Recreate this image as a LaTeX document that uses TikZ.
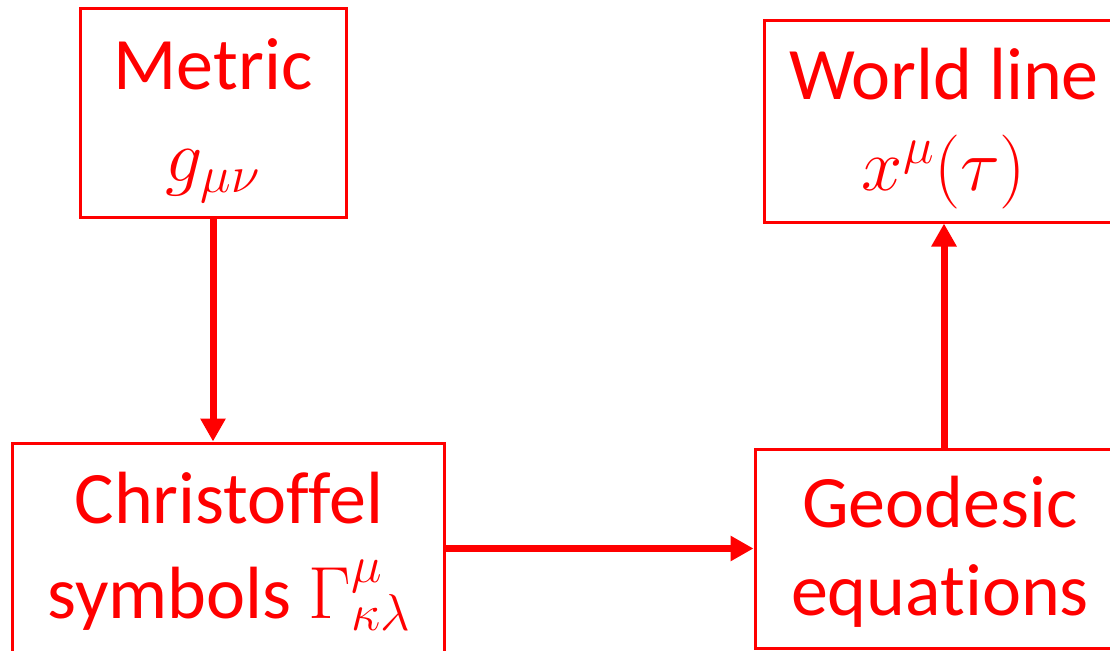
\documentclass[tikz,border=0pt]{standalone}
\usepackage{fix-cm}
\usepackage{fontspec}
\setmainfont{Carlito}[Ligatures=NoCommon]
\usetikzlibrary{arrows.meta}
\begin{document}
\begin{tikzpicture}[x=1pt,y=-1pt,
  box/.style={draw=red, line width=3pt, inner sep=0pt},
  lbl/.style={text=red, anchor=base, inner sep=0pt, font=\fontsize{74}{88}\selectfont},
  conn/.style={draw=red, line width=7pt, -{Triangle[length=23pt,width=24pt]}}]
\useasboundingbox (0,0) rectangle (1110,650);
\clip (0,0) rectangle (1110,650);
\node[box, minimum width=266pt, minimum height=208pt] (metric) at (213,113) {};
\node[box, minimum width=360pt, minimum height=201pt] (world) at (944,121.5) {};
\node[box, minimum width=432pt, minimum height=222pt] (christ) at (228,554) {};
\node[box, minimum width=370pt, minimum height=199pt] (geo) at (940,548.5) {};
\node[lbl] (metricA) at (213,90) {Metric};
\node[lbl] (metricB) at (213,181) {$g_{\mu\nu}$};
\node[lbl] (worldA) at (944,100) {World line};
\node[lbl] (worldB) at (944,190) {$x^{\mu}(\tau)$};
\node[lbl] (christA) at (229,523) {Christoffel};
\node[lbl] (christB) at (229,618) {symbols $\Gamma^{\mu}_{\kappa\lambda}$};
\node[lbl] (geoA) at (940,527) {Geodesic};
\node[lbl] (geoB) at (940,615) {equations};
\draw[conn] (metric.south) -- (metric.south |- christ.north);
\draw[conn] (christ.east |- geo.west) -- (geo.west);
\draw[conn] (geo.north -| world.south) -- (world.south);
\end{tikzpicture}
\end{document}
